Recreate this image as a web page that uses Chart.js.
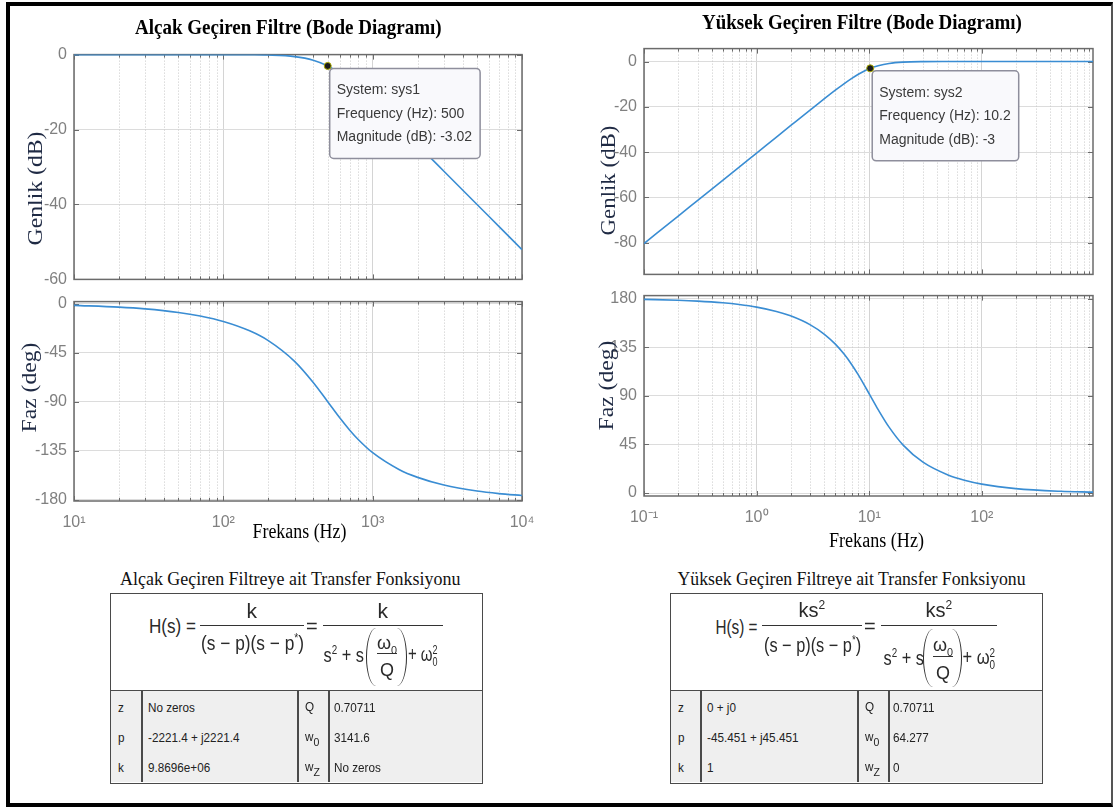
<!DOCTYPE html>
<html><head><meta charset="utf-8">
<title>Bode Diagramları</title>
<script src="https://cdn.jsdelivr.net/npm/chart.js@4.4.1/dist/chart.umd.min.js"></script>
<style>
html,body{margin:0;padding:0;background:#fff;}
body{width:1116px;height:807px;position:relative;overflow:hidden;font-family:"Liberation Sans",Arial,sans-serif;}
.frame{position:absolute;left:6px;top:2px;width:1101px;height:797px;border-left:4px solid #000;border-top:4px solid #000;border-bottom:4px solid #000;border-right:2px solid #555;}
.cv{position:absolute;}
.cv canvas{display:block;}
.tx{position:absolute;white-space:nowrap;line-height:1;transform-origin:50% 50%;}
.serif{font-family:"Liberation Serif","Times New Roman",serif;}
.box{position:absolute;border:1.5px solid #4a4a4a;background:#fff;box-sizing:border-box;}
.low{position:absolute;background:#efefef;border-top:1.5px solid #4a4a4a;box-sizing:border-box;}
.vl{position:absolute;width:1.5px;background:#4a4a4a;}
.hl{position:absolute;height:1.3px;background:#333;}
.pl{position:absolute;width:10px;height:58px;border-left:1.6px solid #2a2a2a;border-radius:10px 0 0 10px / 29px 0 0 29px;box-sizing:border-box;}
.pr{position:absolute;width:10px;height:58px;border-right:1.6px solid #2a2a2a;border-radius:0 10px 10px 0 / 0 29px 29px 0;box-sizing:border-box;}
.cell{position:absolute;white-space:nowrap;font-size:13px;color:#222;line-height:1;transform-origin:0 50%;transform:scaleX(0.9);}
sup,sub{font-size:0.6em;line-height:0;}
.cell sub{font-size:0.9em;vertical-align:-0.45em;}
.stk{display:inline-flex;flex-direction:column;font-size:0.6em;line-height:0.95;vertical-align:0.55em;}
</style></head>
<body>
<div class="frame"></div>

<div id="lpMagWrap" class="cv"><canvas></canvas></div>
<div id="lpPhaseWrap" class="cv"><canvas></canvas></div>
<div id="hpMagWrap" class="cv"><canvas></canvas></div>
<div id="hpPhaseWrap" class="cv"><canvas></canvas></div>

<!-- tables -->
<div class="box" style="left:110px;top:593px;width:373px;height:191px;"></div>
<div class="low" style="left:111px;top:690px;width:371px;height:92px;"></div>
<div class="vl" style="left:141px;top:691px;height:91px;"></div>
<div class="vl" style="left:297px;top:691px;height:91px;"></div>
<div class="vl" style="left:328px;top:691px;height:91px;"></div>

<div class="box" style="left:670px;top:593px;width:373px;height:191px;"></div>
<div class="low" style="left:671px;top:690px;width:371px;height:92px;"></div>
<div class="vl" style="left:700px;top:691px;height:91px;"></div>
<div class="vl" style="left:857px;top:691px;height:91px;"></div>
<div class="vl" style="left:888px;top:691px;height:91px;"></div>

<!-- fraction bars and parentheses -->
<div class="hl" style="left:200px;top:625px;width:104px;"></div>
<div class="hl" style="left:323px;top:625px;width:120px;"></div>
<div class="hl" style="left:377px;top:653px;width:20px;"></div>
<div class="pl" style="left:366px;top:628px;"></div>
<div class="pr" style="left:397px;top:628px;"></div>

<div class="hl" style="left:762px;top:625px;width:100px;"></div>
<div class="hl" style="left:881px;top:625px;width:116px;"></div>
<div class="hl" style="left:933px;top:656px;width:20px;"></div>
<div class="pl" style="left:923px;top:629px;"></div>
<div class="pr" style="left:952px;top:629px;"></div>

<script>
// ---------------- DATA ----------------
const lpFreq  = [10, 20, 30, 50, 70, 100, 150, 200, 300, 400, 500, 600, 700, 800, 1000, 1500, 2000, 3000, 5000, 7000, 10000];
const lpMag   = [0, 0, 0, 0, 0, -0.01, -0.04, -0.11, -0.53, -1.49, -3.01, -4.88, -6.85, -8.78, -12.3, -19.14, -24.1, -31.13, -40.0, -45.85, -52.04];
const lpPhase = [-1.62, -3.24, -4.87, -8.13, -11.42, -16.42, -25.0, -33.96, -52.97, -72.35, -90.0, -104.54, -115.87, -124.59, -136.69, -152.06, -159.34, -166.37, -171.87, -174.2, -175.95];

const hpFreq  = [0.1, 0.2, 0.3, 0.5, 0.7, 1, 1.5, 2, 3, 4, 5, 6, 7, 8, 10.2, 12, 15, 20, 30, 50, 70, 100, 200, 500, 970];
const hpMag   = [-80.39, -68.35, -61.31, -52.44, -46.59, -40.4, -33.35, -28.36, -21.34, -16.41, -12.68, -9.75, -7.45, -5.65, -3.0, -1.84, -0.85, -0.29, -0.06, -0.01, 0, 0, 0, 0, 0];
const hpPhase = [179.21, 178.42, 177.63, 176.04, 174.45, 172.05, 168.04, 163.96, 155.59, 146.86, 137.76, 128.34, 118.79, 109.36, 90.2, 77.23, 61.0, 44.41, 28.62, 16.8, 11.92, 8.32, 4.15, 1.66, 0.85];

const lpMagTicks   = [-60, -40, -20, 0];
const lpPhaseTicks = [-180, -135, -90, -45, 0];
const hpMagTicks   = [-80, -60, -40, -20, 0];
const hpPhaseTicks = [0, 45, 90, 135, 180];

const lpTip = {system: 'sys1', freq: 500, mag: -3.02};
const hpTip = {system: 'sys2', freq: 10.2, mag: -3};

// ---------------- HELPERS ----------------
const TICKFONT = {family: '"Liberation Sans", Arial, sans-serif', size: 16};
const SUP = {'-':'⁻','0':'⁰','1':'¹','2':'²','3':'³','4':'⁴','5':'⁵','6':'⁶','7':'⁷','8':'⁸','9':'⁹'};
function isDecade(v){ const l = Math.log10(v); return Math.abs(l - Math.round(l)) < 1e-9; }
function decLabel(v){ const e = Math.round(Math.log10(v)); return '10' + String(e).split('').map(c => SUP[c]).join(''); }
function logTicks(min, max){
  const out = [];
  for (let e = Math.floor(Math.log10(min)); e <= Math.ceil(Math.log10(max)); e++) {
    for (let m = 1; m <= 9; m++) {
      const v = +(m * Math.pow(10, e)).toPrecision(12);
      if (v >= min * 0.9999 && v <= max * 1.0001) out.push({value: v, major: m === 1});
    }
  }
  return out;
}

function makePlugin(tip){
  return {
    id: 'matlabAxes',
    beforeDatasetsDraw(chart){
      const {ctx, chartArea: a, scales: {x, y}} = chart;
      ctx.save();
      ctx.strokeStyle = '#c8c8c8'; ctx.lineWidth = 1; ctx.setLineDash([1, 2]);
      x.ticks.forEach(t => {
        if (!isDecade(t.value)) {
          const px = Math.round(x.getPixelForValue(t.value)) + 0.5;
          ctx.beginPath(); ctx.moveTo(px, a.top); ctx.lineTo(px, a.bottom); ctx.stroke();
        }
      });
      ctx.setLineDash([]);
      ctx.strokeStyle = '#6b6b6b'; ctx.lineWidth = 1;
      x.ticks.forEach(t => {
        const px = Math.round(x.getPixelForValue(t.value)) + 0.5;
        const len = isDecade(t.value) ? 5 : 3;
        ctx.beginPath();
        ctx.moveTo(px, a.bottom); ctx.lineTo(px, a.bottom - len);
        ctx.moveTo(px, a.top); ctx.lineTo(px, a.top + len);
        ctx.stroke();
      });
      y.ticks.forEach(t => {
        const py = Math.round(y.getPixelForValue(t.value)) + 0.5;
        ctx.beginPath();
        ctx.moveTo(a.left, py); ctx.lineTo(a.left + 5, py);
        ctx.moveTo(a.right, py); ctx.lineTo(a.right - 5, py);
        ctx.stroke();
      });
      ctx.lineWidth = 1.5; ctx.strokeStyle = '#6b6b6b';
      ctx.strokeRect(a.left, a.top, a.right - a.left, a.bottom - a.top);
      ctx.restore();
    },
    beforeDatasetDraw(chart, args){
      if (!tip || args.index !== 1) return;
      const {ctx, scales: {x, y}} = chart;
      const px = x.getPixelForValue(tip.freq), py = y.getPixelForValue(tip.mag);
      const lines = ['System: ' + tip.system, 'Frequency (Hz): ' + tip.freq, 'Magnitude (dB): ' + tip.mag];
      ctx.save();
      ctx.font = '14px "Liberation Sans", Arial, sans-serif';
      const w = Math.max(...lines.map(l => ctx.measureText(l).width)) + 15, h = 90;
      const bx = px + 2, by = py + 2.5;
      ctx.beginPath(); ctx.roundRect(bx, by, w, h, 4);
      ctx.fillStyle = '#f9f9fc'; ctx.fill();
      ctx.lineWidth = 1.5; ctx.strokeStyle = '#8e8e9c'; ctx.stroke();
      ctx.fillStyle = '#3a3a3a'; ctx.textBaseline = 'middle';
      lines.forEach((l, i) => ctx.fillText(l, bx + 7, by + 22 + i * 23.5));
      ctx.restore();
    }
  };
}

function bode(id, area, xr, yr, yTicks, freq, vals, showX, tip){
  const L = 70, T = 14, R = 30, B = showX ? 45 : 16;
  const wrap = document.getElementById(id);
  const W = area[2] - area[0] + L + R, H = area[3] - area[1] + T + B;
  wrap.style.left = (area[0] - L) + 'px'; wrap.style.top = (area[1] - T) + 'px';
  wrap.style.width = W + 'px'; wrap.style.height = H + 'px';
  const cv = wrap.querySelector('canvas'); cv.width = W; cv.height = H;
  cv.style.width = W + 'px'; cv.style.height = H + 'px';
  const datasets = [{
    data: freq.map((f, i) => ({x: f, y: vals[i]})),
    borderColor: '#3a8dd3', borderWidth: 1.6, pointRadius: 0,
    cubicInterpolationMode: 'monotone', fill: false, order: 1
  }];
  if (tip) datasets.push({
    data: [{x: tip.freq, y: tip.mag}], showLine: false, pointRadius: 3.5,
    pointBackgroundColor: '#1c1c1c', pointBorderColor: '#a8a800', pointBorderWidth: 1, order: 0
  });
  new Chart(cv, {
    type: 'line',
    data: {datasets},
    options: {
      responsive: false, animation: false, devicePixelRatio: 1, events: [],
      layout: {padding: {left: 0, top: T, right: R, bottom: 0}},
      plugins: {legend: {display: false}, tooltip: {enabled: false}, title: {display: false}},
      scales: {
        x: {
          type: 'logarithmic', min: xr[0], max: xr[1],
          afterBuildTicks: s => { s.ticks = logTicks(xr[0], xr[1]); },
          afterFit: s => { s.height = B; },
          ticks: {display: showX, autoSkip: false, maxRotation: 0, minRotation: 0, padding: 12,
                  color: '#808080', font: TICKFONT, callback: v => isDecade(v) ? decLabel(v) : ''},
          grid: {drawTicks: false, lineWidth: 1, color: c => (c.tick && isDecade(c.tick.value)) ? '#d4d4d4' : 'rgba(0,0,0,0)'},
          border: {display: false}
        },
        y: {
          type: 'linear', min: yr[0], max: yr[1],
          afterBuildTicks: s => { s.ticks = yTicks.map(v => ({value: v})); },
          afterFit: s => { s.width = L; },
          ticks: {padding: 7, color: '#808080', font: TICKFONT},
          grid: {drawTicks: false, color: '#dcdcdc', lineWidth: 1},
          border: {display: false}
        }
      }
    },
    plugins: [makePlugin(tip)]
  });
}

bode('lpMagWrap',   [74, 52, 522, 280],   [10, 10000], [-60, 0],     lpMagTicks,   lpFreq, lpMag,   false, lpTip);
bode('lpPhaseWrap', [74, 299, 522, 501],  [10, 10000], [-181, 1.8],  lpPhaseTicks, lpFreq, lpPhase, true,  null);
bode('hpMagWrap',   [644, 46, 1093, 275], [0.1, 970],  [-94, 5.7],   hpMagTicks,   hpFreq, hpMag,   false, hpTip);
bode('hpPhaseWrap', [644, 293, 1093, 496],[0.1, 970],  [-2.7, 182.7],hpPhaseTicks, hpFreq, hpPhase, true,  null);

// ---------------- TEXT ----------------
function label(html, cx, cy, o){
  o = o || {};
  const d = document.createElement('div');
  d.className = 'tx' + (o.serif ? ' serif' : '');
  d.innerHTML = html;
  d.style.fontSize = (o.size || 16) + 'px';
  if (o.bold) d.style.fontWeight = 'bold';
  d.style.color = o.color || '#000';
  document.body.appendChild(d);
  const w = d.offsetWidth, h = d.offsetHeight;
  d.style.left = (cx - w / 2) + 'px'; d.style.top = (cy - h / 2) + 'px';
  const sx = o.w ? o.w / w : 1, sy = o.sy || 1;
  d.style.transform = (o.rot ? 'rotate(-90deg) ' : '') + 'scale(' + sx + ',' + sy + ')';
}
function cell(html, left, cy){
  const d = document.createElement('div');
  d.className = 'cell'; d.innerHTML = html;
  document.body.appendChild(d);
  d.style.left = left + 'px'; d.style.top = (cy - d.offsetHeight / 2) + 'px';
}

// titles
label('Alçak Geçiren Filtre (Bode Diagramı)', 288, 27, {serif: 1, bold: 1, size: 21, w: 307});
label('Yüksek Geçiren Filtre (Bode Diagramı)', 862, 22, {serif: 1, bold: 1, size: 21, w: 320});
// axis titles
const axc = '#1f2a44';
label('Genlik (dB)', 35, 188, {serif: 1, size: 21, rot: 1, w: 114, color: axc});
label('Faz (deg)', 30, 387, {serif: 1, size: 21, rot: 1, w: 90, color: axc});
label('Genlik (dB)', 608, 180, {serif: 1, size: 21, rot: 1, w: 110, color: axc});
label('Faz (deg)', 607, 385, {serif: 1, size: 21, rot: 1, w: 90, color: axc});
label('Frekans (Hz)', 299, 531, {serif: 1, size: 20, w: 94});
label('Frekans (Hz)', 876, 540, {serif: 1, size: 20, w: 95});
// table titles
label('Alçak Geçiren Filtreye ait Transfer Fonksiyonu', 290, 578, {serif: 1, size: 19, w: 340, color: '#111'});
label('Yüksek Geçiren Filtreye ait Transfer Fonksiyonu', 851, 578, {serif: 1, size: 19, w: 348, color: '#111'});

// formulas
const fc = '#2a2a2a';
label('H(s) =', 172, 626, {size: 20, w: 47, color: fc});
label('k', 252, 610, {size: 21, color: fc});
label('(s − p)(s − p<sup>*</sup>)', 252, 643, {size: 20, w: 103, color: fc});
label('=', 312, 626, {size: 20, color: fc});
label('k', 383, 610, {size: 21, color: fc});
label('s<sup>2</sup> + s', 343, 655, {size: 20, w: 40, color: fc});
label('ω<sub>0</sub>', 387, 643, {size: 18, color: fc});
label('Q', 387, 670, {size: 18, color: fc});
label('+ ω<span class="stk"><span>2</span><span>0</span></span>', 423, 656, {size: 20, w: 30, color: fc});

label('H(s) =', 736, 627, {size: 20, w: 42, color: fc});
label('ks<sup>2</sup>', 812, 610, {size: 20, color: fc});
label('(s − p)(s − p<sup>*</sup>)', 812, 645, {size: 20, w: 97, color: fc});
label('=', 870, 626, {size: 20, color: fc});
label('ks<sup>2</sup>', 939, 610, {size: 20, color: fc});
label('s<sup>2</sup> + s', 903, 658, {size: 20, w: 40, color: fc});
label('ω<sub>0</sub>', 943, 645, {size: 18, color: fc});
label('Q', 943, 673, {size: 18, color: fc});
label('+ ω<span class="stk"><span>2</span><span>0</span></span>', 979, 659, {size: 20, w: 33, color: fc});

// table cells
const lpCells = [['z', 'No zeros', 'Q', '0.70711'], ['p', '-2221.4 + j2221.4', 'w<sub>0</sub>', '3141.6'], ['k', '9.8696e+06', 'w<sub>Z</sub>', 'No zeros']];
const hpCells = [['z', '0 + j0', 'Q', '0.70711'], ['p', '-45.451 + j45.451', 'w<sub>0</sub>', '64.277'], ['k', '1', 'w<sub>Z</sub>', '0']];
const rowY = [707, 737, 767];
lpCells.forEach((r, i) => { cell(r[0], 118, rowY[i]); cell(r[1], 148, rowY[i]); cell(r[2], 305, rowY[i] - 1); cell(r[3], 334, rowY[i]); });
hpCells.forEach((r, i) => { cell(r[0], 678, rowY[i]); cell(r[1], 707, rowY[i]); cell(r[2], 865, rowY[i] - 1); cell(r[3], 893, rowY[i]); });
</script>
</body></html>
